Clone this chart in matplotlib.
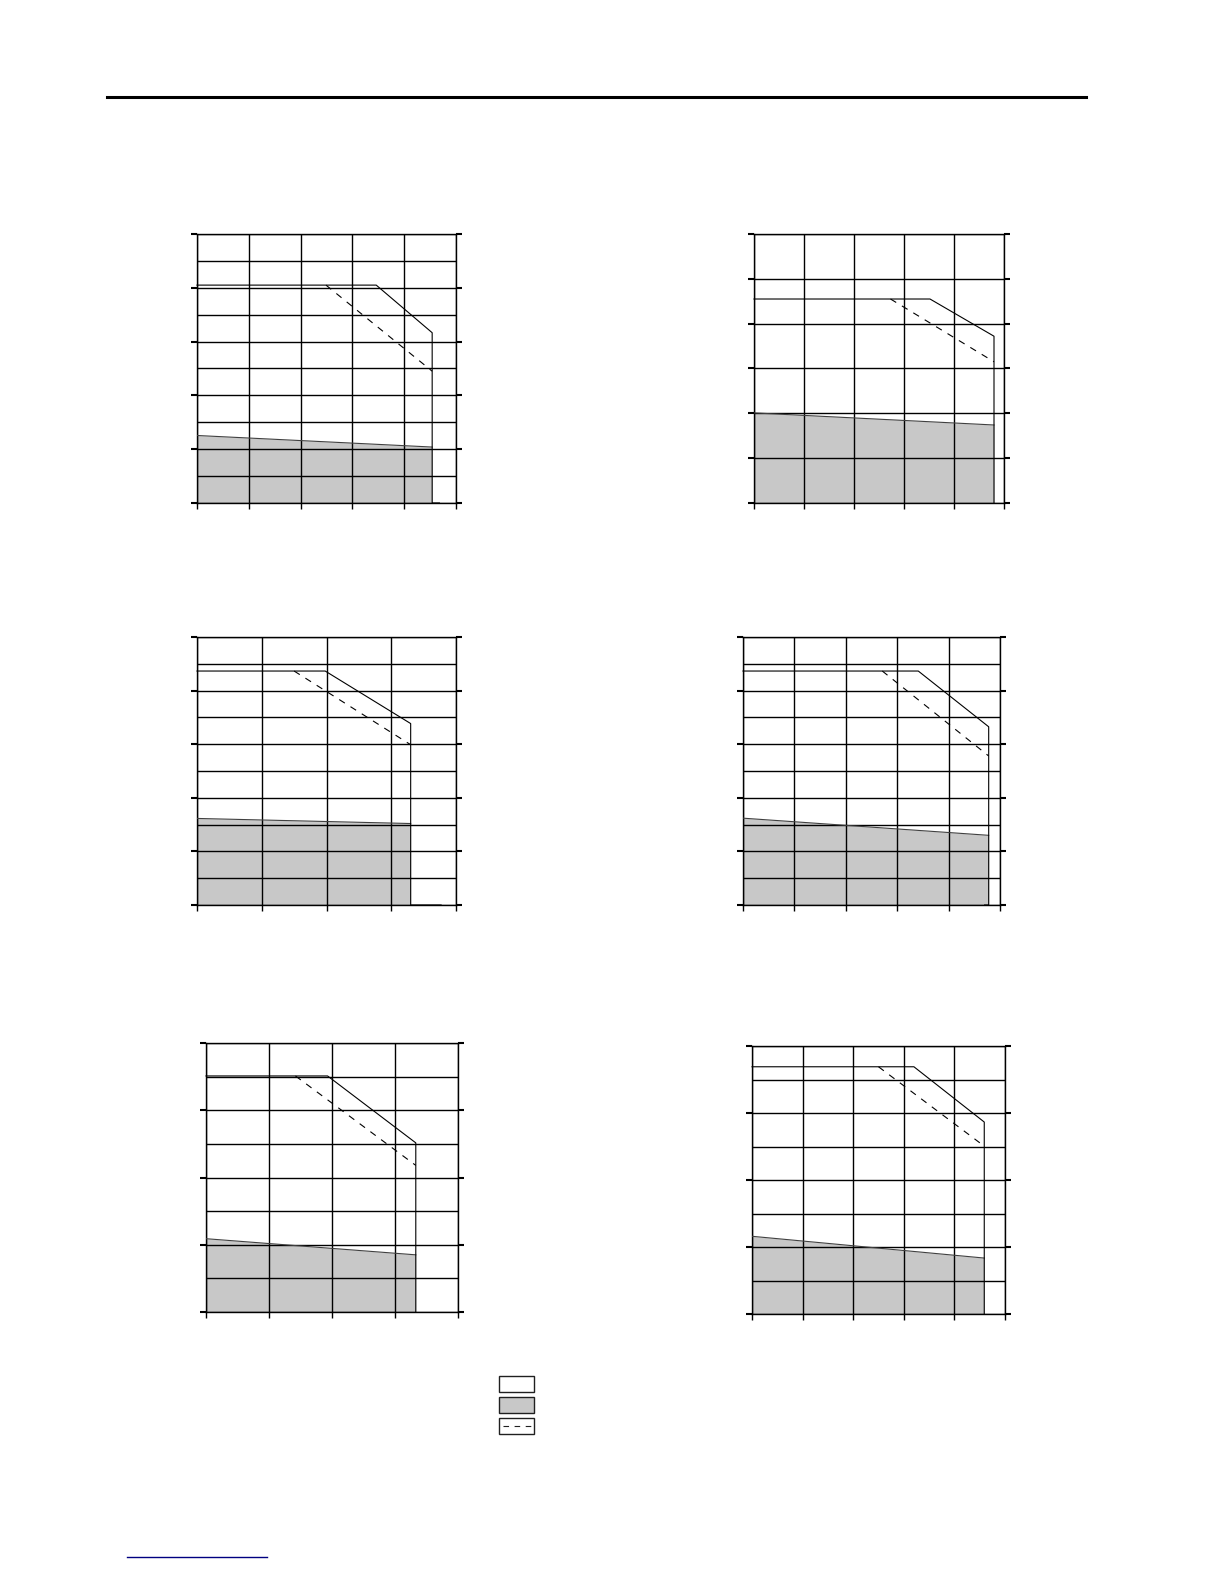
import matplotlib
matplotlib.use("Agg")
import matplotlib.pyplot as plt
from matplotlib.patches import Rectangle
from matplotlib.lines import Line2D

W, H = 1224, 1584

# grid size of each panel (columns, rows) and rows between major ticks
n_cols = [5, 5, 4, 5, 4, 5]
n_rows = [10, 6, 10, 10, 8, 8]
tick_step = [2, 1, 2, 2, 2, 2]

# solid curve: flat level, knee, sloped end (grid units)
solid_x = [
    [0, 3.46, 4.54, 4.54, 4.68],
    [0, 3.52, 4.80, 4.80],
    [0, 1.98, 3.30, 3.30, 3.77],
    [0, 3.41, 4.78, 4.78, 4.70],
    [0, 1.93, 3.33, 3.33],
    [0, 3.20, 4.59, 4.59],
]
solid_y = [
    [8.10, 8.10, 6.33, 0, 0],
    [4.55, 4.55, 3.72, 0],
    [8.73, 8.73, 6.77, 0, 0],
    [8.73, 8.73, 6.65, 0, 0],
    [7.02, 7.02, 5.03, 0],
    [7.38, 7.38, 5.73, 0],
]

# dashed curve
dash_x = [
    [2.49, 4.54],
    [2.73, 4.80],
    [1.50, 3.30],
    [2.71, 4.78],
    [1.42, 3.33],
    [2.50, 4.59],
]
dash_y = [
    [8.10, 4.90],
    [4.55, 3.15],
    [8.73, 5.98],
    [8.73, 5.56],
    [7.02, 4.36],
    [7.38, 5.01],
]

# grey area: top edge at start and end
fill_x = [
    [0, 4.54],
    [0, 4.80],
    [0, 3.30],
    [0, 4.78],
    [0, 3.33],
    [0, 4.59],
]
fill_y = [
    [2.51, 2.08],
    [2.01, 1.74],
    [3.23, 3.04],
    [3.24, 2.60],
    [2.18, 1.70],
    [2.32, 1.67],
]

# panel boxes in pixels: left, right, top, bottom
boxes = [
    (197, 456, 234, 503),
    (754, 1004, 234, 503),
    (197, 456, 637, 905),
    (743, 1000, 637, 905),
    (206, 458, 1043, 1312),
    (752, 1005, 1046, 1314),
]

fig = plt.figure(figsize=(W / 100, H / 100), dpi=100)

for i, (x0, x1, yt, yb) in enumerate(boxes):
    ax = fig.add_axes([x0 / W, 1 - yb / H, (x1 - x0) / W, (yb - yt) / H])
    nc, nr = n_cols[i], n_rows[i]
    ax.set_xlim(0, nc)
    ax.set_ylim(0, nr)
    ax.set_axisbelow(True)

    ax.fill_between(fill_x[i], fill_y[i], 0, color='#c8c8c8', lw=0, zorder=0.2)
    ax.plot(fill_x[i], fill_y[i], color='#404040', lw=0.8, zorder=3)
    ax.plot(solid_x[i], solid_y[i], color='black', lw=0.8, zorder=3, clip_on=False)
    ax.plot(dash_x[i], dash_y[i], color='black', lw=0.8, zorder=3,
            linestyle=(0, (6, 6)))

    ax.set_xticks(range(nc + 1))
    ax.set_yticks(range(nr + 1))
    ax.grid(True, color='black', lw=1.0)
    ax.set_yticks(range(0, nr + 1, tick_step[i]))
    ax.set_yticks(range(nr + 1), minor=True)
    ax.grid(True, which='minor', axis='y', color='black', lw=1.0)
    ax.tick_params(axis='y', which='minor', length=0)
    ax.tick_params(axis='y', which='major', left=True, right=True,
                   direction='out', length=4, width=1.5,
                   labelleft=False, labelright=False)
    ax.tick_params(axis='x', bottom=True, top=False, direction='out',
                   length=4, width=1.0, labelbottom=False)
    for s in ax.spines.values():
        s.set_color('black')
        s.set_linewidth(1.0)

# legend boxes
legend_top = [1376, 1397, 1418]
legend_face = ['white', '#c8c8c8', 'white']
for top, face in zip(legend_top, legend_face):
    fig.add_artist(Rectangle((499 / W, 1 - (top + 16) / H), 35 / W, 16 / H,
                             transform=fig.transFigure, facecolor=face,
                             edgecolor='#202020', lw=1.0))
fig.add_artist(Line2D([503 / W, 531 / W], [1 - 1426 / H, 1 - 1426 / H],
                      transform=fig.transFigure, color='#202020', lw=0.8,
                      linestyle=(0, (5, 5))))

# header rule and footer link line
fig.add_artist(Line2D([107 / W, 1086 / W], [1 - 97 / H, 1 - 97 / H],
                      transform=fig.transFigure, color='black', lw=2.2))
fig.add_artist(Line2D([127 / W, 267 / W], [1 - 1557 / H, 1 - 1557 / H],
                      transform=fig.transFigure, color='#000080', lw=1.0))

fig.savefig('out.png', dpi=100)
